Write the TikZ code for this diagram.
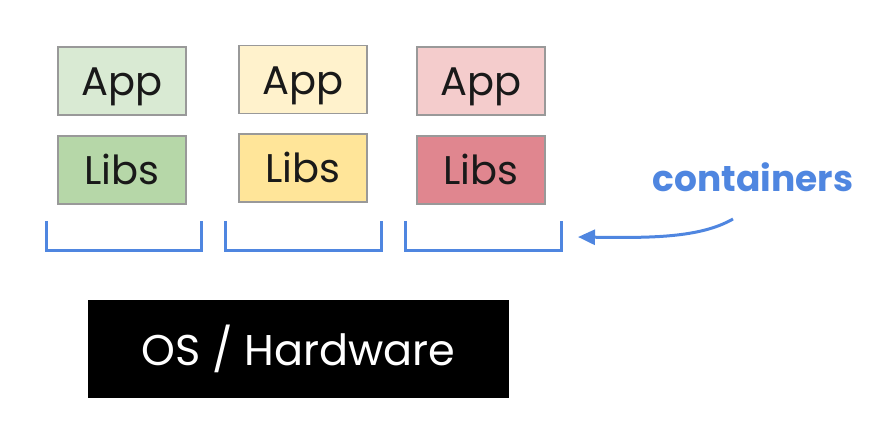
\documentclass[tikz,border=0pt]{standalone}
\usepackage{fontspec}
\setmainfont{Poppins}
\usepackage{xcolor}
\usetikzlibrary{positioning,arrows.meta}

\definecolor{appgreen}{HTML}{D9EAD3}
\definecolor{libgreen}{HTML}{B6D7A8}
\definecolor{appyellow}{HTML}{FFF2CC}
\definecolor{libyellow}{HTML}{FFE599}
\definecolor{apppink}{HTML}{F4CCCC}
\definecolor{libred}{HTML}{E0868F}
\definecolor{gblue}{HTML}{4F86E0}

\begin{document}
\begin{tikzpicture}[x=1pt,y=-1pt,
    layer/.style={draw=black!40,line width=1.2pt,minimum width=128pt,minimum height=68pt,
                  inner sep=0pt,text height=30pt,text depth=0pt,
                  font=\fontsize{40}{44}\selectfont,text=black!90},
    bracket/.style={draw=gblue,line width=3pt}]
  \useasboundingbox (0,0) rectangle (870,427);

  \node[layer,fill=appgreen]  (app_1)  at (122,81)    {App};
  \node[layer,fill=libgreen]  (libs_1) at (122,170)   {Libs};
  \node[layer,fill=appyellow] (app_2)  at (303,79.5)  {App};
  \node[layer,fill=libyellow] (libs_2) at (303,168)   {Libs};
  \node[layer,fill=apppink]   (app_3)  at (481,81)    {App};
  \node[layer,fill=libred]    (libs_3) at (481,170)   {Libs};

  \draw[bracket] (46,221) |- (201,251) -- (201,221);
  \draw[bracket] (225,221) |- (381,251) -- (381,221);
  \draw[bracket] (405,221) |- (561,251) -- (561,221);

  \node[fill=black,minimum width=421pt,minimum height=98pt,text=white,
        font=\fontsize{43}{47}\selectfont] (os) at (298.5,349) {OS / Hardware};

  \node[text=gblue,font=\fontsize{36}{40}\bfseries] (label) at (753,177) {containers};
  \coordinate (tail) at (733,219);
  \coordinate (tip)  at (578,237);
  \draw[gblue,line width=3pt,-{Triangle[length=17pt,width=15pt]}]
    (tail) .. controls (700,238) and (650,238) .. (tip);
\end{tikzpicture}
\end{document}
